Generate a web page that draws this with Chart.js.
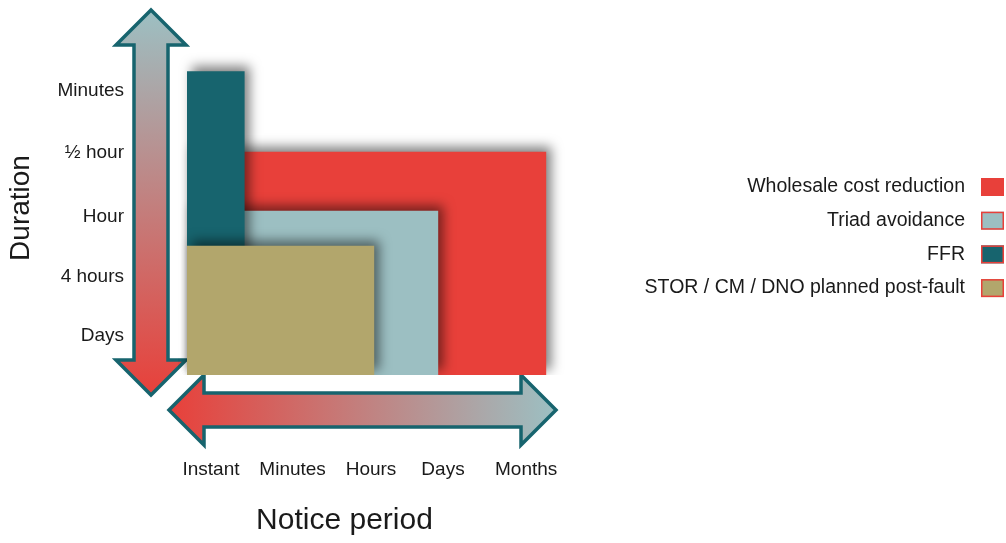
<!DOCTYPE html>
<html>
<head>
<meta charset="utf-8">
<script src="https://cdn.jsdelivr.net/npm/chart.js@4.4.1/dist/chart.umd.min.js"></script>
<style>
  html, body { margin: 0; padding: 0; background: #fff; }
  #wrap { width: 1006px; height: 543px; position: relative; }
</style>
</head>
<body>
<div id="wrap"><canvas id="chart"></canvas></div>
<script>
// axis categories (value = position on the scale)
const noticeLabels = ["Instant", "Minutes", "Hours", "Days", "Months"]
const noticeTicks = [0.3, 1.32, 2.3, 3.2, 4.24]
const durationLabels = ["Days", "4 hours", "Hour", "½ hour", "Minutes"]
const durationTicks = [0.63, 1.6, 2.57, 3.61, 4.62]

// services, drawn back to front: later ones sit on top
const services = ["STOR / CM / DNO planned post-fault", "FFR", "Triad avoidance", "Wholesale cost reduction"]
const noticeReach = [2.34, 0.72, 3.14, 4.49]
const durationReach = [2.1, 4.94, 2.67, 3.63]
const colors = ["#b2a66c", "#17646e", "#9cbfc2", "#e8403a"]

const textColor = "#1a1a1a"
const font = "'Liberation Sans', Arial, sans-serif"

function drawArrow(ctx, horizontal, c, a, b, grad) {
  const head = 35, half = 35, shaft = 17
  const P = (u, v) => horizontal ? [u, c + v] : [c + v, u]
  const pts = [
    P(a, 0), P(a + head, -half), P(a + head, -shaft), P(b - head, -shaft),
    P(b - head, -half), P(b, 0), P(b - head, half), P(b - head, shaft),
    P(a + head, shaft), P(a + head, half)
  ]
  ctx.beginPath()
  pts.forEach((p, i) => (i ? ctx.lineTo(p[0], p[1]) : ctx.moveTo(p[0], p[1])))
  ctx.closePath()
  ctx.fillStyle = grad
  ctx.fill()
  ctx.lineWidth = 3.5
  ctx.lineJoin = "miter"
  ctx.strokeStyle = "#17646e"
  ctx.stroke()
}

const decor = {
  id: "decor",
  beforeDatasetsDraw(chart) {
    const ctx = chart.ctx
    const x0 = chart.scales.x.getPixelForValue(0)
    const y0 = chart.scales.y.getPixelForValue(0)

    // duration arrow (vertical)
    const vx = x0 - 36
    let g = ctx.createLinearGradient(0, 10, 0, y0 + 20)
    g.addColorStop(0, "#9cc0c3")
    g.addColorStop(1, "#e8403a")
    ctx.save()
    drawArrow(ctx, false, vx, 10, y0 + 20, g)

    // notice arrow (horizontal)
    const hy = y0 + 35
    g = ctx.createLinearGradient(x0 - 18, 0, x0 + 369, 0)
    g.addColorStop(0, "#e8403a")
    g.addColorStop(1, "#9cc0c3")
    drawArrow(ctx, true, hy, x0 - 18, x0 + 369, g)
    ctx.restore()

    // soft drop shadow for the blocks
    ctx.shadowColor = "rgba(0,0,0,0.5)"
    ctx.shadowBlur = 12
    ctx.shadowOffsetX = 5
    ctx.shadowOffsetY = -5
  },
  afterDatasetsDraw(chart) {
    const ctx = chart.ctx
    ctx.shadowColor = "rgba(0,0,0,0)"
    ctx.shadowBlur = 0
    ctx.shadowOffsetX = 0
    ctx.shadowOffsetY = 0
  },
  afterDraw(chart) {
    // legend: text right aligned, swatch on the right
    const ctx = chart.ctx
    const items = chart.data.datasets.slice().reverse()
    ctx.save()
    ctx.font = "19.5px " + font
    ctx.textAlign = "right"
    ctx.textBaseline = "middle"
    items.forEach((ds, i) => {
      const cy = 187 + i * 33.7
      ctx.fillStyle = textColor
      ctx.fillText(ds.label, 965, cy)
      ctx.fillStyle = ds.backgroundColor
      ctx.fillRect(981, cy - 9, 23, 18)
      ctx.strokeStyle = "#e8403a"
      ctx.lineWidth = 1.5
      ctx.strokeRect(981.75, cy - 8.25, 21.5, 16.5)
    })
    ctx.restore()
  }
}

// each block: corner points of the rectangle from the origin to (reach, duration)
const datasets = services.map((name, i) => ({
  label: name,
  data: [
    { x: 0, y: 0 },
    { x: 0, y: durationReach[i] },
    { x: noticeReach[i], y: durationReach[i] },
    { x: noticeReach[i], y: 0 }
  ],
  backgroundColor: colors[i],
  borderColor: "rgba(0,0,0,0)",
  borderWidth: 0,
  pointRadius: 0,
  tension: 0,
  clip: false,
  fill: "shape"
}))

new Chart(document.getElementById("chart"), {
  type: "line",
  data: { datasets },
  options: {
    responsive: true,
    maintainAspectRatio: false,
    animation: false,
    events: [],
    layout: { padding: { left: 0, top: 41, right: 441, bottom: 0 } },
    plugins: { legend: { display: false }, tooltip: { enabled: false } },
    scales: {
      x: {
        type: "linear",
        min: -0.7875,
        max: 4.725,
        grid: { display: false, drawTicks: false },
        border: { display: false },
        afterFit: (s) => { s.height = 168 },
        afterBuildTicks: (s) => { s.ticks = noticeTicks.map((v) => ({ value: v })) },
        ticks: {
          autoSkip: false,
          maxRotation: 0,
          padding: 83,
          color: textColor,
          font: { family: font, size: 19 },
          callback: (v, i) => noticeLabels[i]
        },
        title: {
          display: true,
          text: "Notice period",
          color: textColor,
          font: { family: font, size: 30 }
        }
      },
      y: {
        type: "linear",
        min: 0,
        max: 5.431,
        grid: { display: false, drawTicks: false },
        border: { display: false },
        afterFit: (s) => { s.width = 124 },
        afterBuildTicks: (s) => { s.ticks = durationTicks.map((v) => ({ value: v })) },
        ticks: {
          autoSkip: false,
          padding: 0,
          color: textColor,
          font: { family: font, size: 19 },
          callback: (v, i) => durationLabels[i]
        },
        title: {
          display: true,
          text: "Duration",
          color: textColor,
          font: { family: font, size: 28 }
        }
      }
    }
  },
  plugins: [decor]
})
</script>
</body>
</html>
